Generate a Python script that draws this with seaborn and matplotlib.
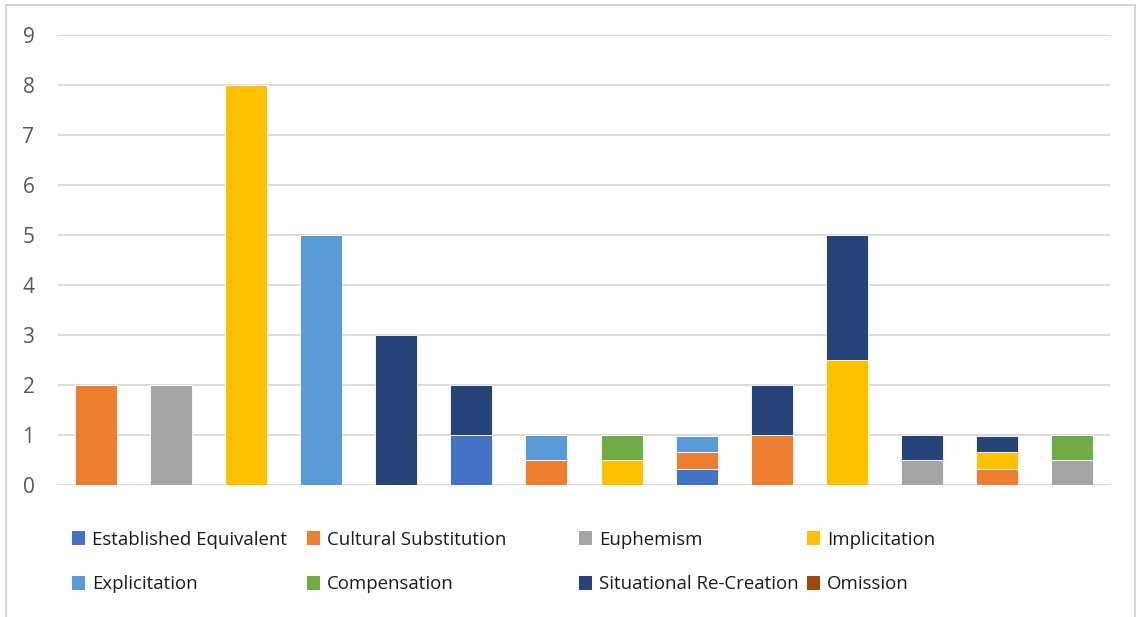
import numpy as np
import pandas as pd
import matplotlib
matplotlib.use('Agg')
import matplotlib.pyplot as plt
import seaborn as sns
from matplotlib.patches import Rectangle, Patch

# --- data ---
categories = [str(i) for i in range(1, 15)]
strategies = ['Established Equivalent', 'Cultural Substitution', 'Euphemism', 'Implicitation',
              'Explicitation', 'Compensation', 'Situational Re-Creation', 'Omission']
colors = ['#4472C4', '#ED7D31', '#A5A5A5', '#FFC000', '#5B9BD5', '#70AD47', '#264478', '#9E480E']

established = [0, 0, 0, 0, 0, 1, 0, 0, 0.33, 0, 0, 0, 0, 0]
cultural = [2, 0, 0, 0, 0, 0, 0.5, 0, 0.33, 1, 0, 0, 0.33, 0]
euphemism = [0, 2, 0, 0, 0, 0, 0, 0, 0, 0, 0, 0.5, 0, 0.5]
implicitation = [0, 0, 8, 0, 0, 0, 0, 0.5, 0, 0, 2.5, 0, 0.33, 0]
explicitation = [0, 0, 0, 5, 0, 0, 0.5, 0, 0.33, 0, 0, 0, 0, 0]
compensation = [0, 0, 0, 0, 0, 0, 0, 0.5, 0, 0, 0, 0, 0, 0.5]
situational = [0, 0, 0, 0, 3, 1, 0, 0, 0, 1, 2.5, 0.5, 0.33, 0]
omission = [0] * 14

df = pd.DataFrame(
    [established, cultural, euphemism, implicitation, explicitation, compensation, situational, omission],
    index=strategies, columns=categories).T

sns.set_theme(style='white')
plt.rcParams['font.family'] = ['Open Sans', 'DejaVu Sans']

fig = plt.figure(figsize=(11.38, 6.17), dpi=100)
ax = fig.add_axes([58 / 1138, 132 / 617, 1052 / 1138, 450 / 617])

bottom = np.zeros(len(categories))
for name, col in zip(strategies, colors):
    vals = df[name].values
    if vals.sum() > 0:
        sns.barplot(x=df.index, y=vals, bottom=bottom, color=col, width=0.56,
                    edgecolor='white', linewidth=0.6, saturation=1, ax=ax, zorder=3)
    bottom = bottom + vals

ax.set_ylim(0, 9)
ax.set_xlim(-0.5, 13.5)
ax.set_yticks(range(0, 10))
ax.yaxis.grid(True, color='#d9d9d9', linewidth=1.3, zorder=0)
ax.set_axisbelow(True)
ax.set_xticks([])
ax.set_xlabel('')
ax.set_ylabel('')
ax.tick_params(axis='y', length=0, pad=17, labelsize=15, labelcolor='#595959')
for s in ax.spines.values():
    s.set_visible(False)

# legend: 2 rows x 4 columns, each column placed like the Excel layout
handles = [Patch(facecolor=c, edgecolor='none') for c in colors]
col_x = [72, 307, 579, 807]
for j, x in enumerate(col_x):
    idx = [j, j + 4]
    fig.legend([handles[i] for i in idx], [strategies[i] for i in idx],
               ncol=1, loc='center left', bbox_to_anchor=(x / 1138, 1 - 562 / 617),
               frameon=False, fontsize=13.4, handlelength=0.72, handleheight=0.72,
               handletextpad=0.35, labelspacing=1.45, labelcolor='#1a1a1a',
               borderaxespad=0, borderpad=0)

# chart border
fig.add_artist(Rectangle((6 / 1138, -0.02), 1129 / 1138, 1 - 5 / 617 + 0.02,
                         transform=fig.transFigure, fill=False, edgecolor='#d0d0d0', linewidth=1.2))

fig.savefig('out.png', dpi=100)
